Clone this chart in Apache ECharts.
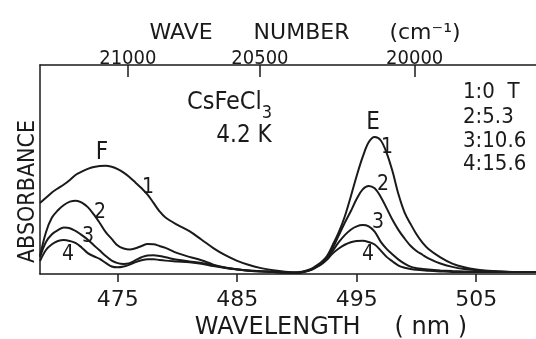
<!DOCTYPE html>
<html>
<head>
<meta charset="utf-8">
<script src="https://cdn.jsdelivr.net/npm/echarts@6/dist/echarts.min.js"></script>
<style>
html,body{margin:0;padding:0;background:#fff;}
#c{width:536px;height:339px;}
</style>
</head>
<body>
<div id="c"></div>
<script>
// wavelength grid (nm)
var wavelength = [468.5,469.0,469.5,470.0,470.5,471.0,471.5,472.0,472.5,473.0,473.5,474.0,474.5,475.0,475.5,476.0,476.5,477.0,477.5,478.0,478.5,479.0,480.0,481.0,482.0,483.0,484.0,485.0,486.0,487.0,488.0,489.0,490.0,491.0,491.5,492.0,492.5,493.0,493.5,494.0,494.5,495.0,495.5,496.0,496.5,497.0,497.5,498.0,498.5,499.0,499.5,500.0,500.5,501.0,502.0,503.0,504.0,505.0,506.0,507.0,508.0,510.0];
// absorbance (arb. units), curve 1: 0 T
var abs1 = [0.34,0.365,0.39,0.41,0.428,0.45,0.475,0.49,0.503,0.512,0.517,0.518,0.513,0.502,0.485,0.463,0.437,0.41,0.38,0.34,0.3,0.27,0.235,0.205,0.165,0.124,0.09,0.063,0.043,0.028,0.018,0.011,0.008,0.02,0.035,0.055,0.085,0.14,0.2,0.275,0.37,0.47,0.56,0.63,0.655,0.64,0.58,0.49,0.38,0.295,0.24,0.19,0.15,0.12,0.08,0.05,0.032,0.021,0.015,0.012,0.01,0.009];
// curve 2: 5.3 T
var abs2 = [0.086,0.2,0.27,0.305,0.33,0.346,0.351,0.342,0.32,0.285,0.244,0.2,0.168,0.136,0.122,0.117,0.123,0.134,0.143,0.142,0.134,0.125,0.1,0.082,0.066,0.045,0.031,0.023,0.017,0.013,0.01,0.007,0.006,0.018,0.032,0.05,0.08,0.125,0.185,0.245,0.3,0.36,0.405,0.421,0.41,0.37,0.315,0.258,0.21,0.17,0.135,0.11,0.092,0.075,0.05,0.034,0.024,0.019,0.014,0.012,0.01,0.009];
// curve 3: 10.6 T
var abs3 = [0.081,0.153,0.19,0.21,0.222,0.219,0.205,0.186,0.164,0.138,0.112,0.086,0.064,0.052,0.048,0.052,0.066,0.08,0.089,0.09,0.086,0.08,0.068,0.06,0.053,0.041,0.03,0.022,0.016,0.013,0.01,0.007,0.006,0.017,0.03,0.047,0.074,0.112,0.152,0.186,0.212,0.228,0.234,0.228,0.203,0.155,0.12,0.093,0.069,0.05,0.035,0.028,0.024,0.021,0.017,0.014,0.012,0.011,0.01,0.01,0.009,0.009];
// curve 4: 15.6 T
var abs4 = [0.062,0.115,0.142,0.158,0.163,0.158,0.148,0.126,0.1,0.085,0.072,0.053,0.036,0.032,0.036,0.045,0.057,0.066,0.071,0.071,0.067,0.064,0.06,0.056,0.049,0.038,0.029,0.022,0.016,0.012,0.009,0.007,0.006,0.016,0.028,0.044,0.068,0.099,0.122,0.14,0.152,0.158,0.159,0.153,0.141,0.113,0.082,0.06,0.04,0.03,0.024,0.02,0.018,0.015,0.012,0.01,0.01,0.009,0.009,0.009,0.009,0.009];

var bottomTicks = [475, 485, 495, 505];
var topTickNm = [475.85, 486.9, 499.85];
var topTickLabels = ['21000', '20500', '20000'];
var legendLines = ['1:0  T', '2:5.3', '3:10.6', '4:15.6'];

var CFONT = "'DejaVu Sans Condensed','Liberation Sans',sans-serif";
var RFONT = "'DejaVu Sans',sans-serif";
var INK = '#1a1a1a';

function pairs(ys){ return wavelength.map(function(x,i){ return [x, ys[i]]; }); }
function lineSeries(name, ys){
  return {type:'line', name:name, data:pairs(ys), showSymbol:false, smooth:0.35,
    lineStyle:{color:INK, width:2}, xAxisIndex:0, yAxisIndex:0, silent:true, animation:false};
}

var chart = echarts.init(document.getElementById('c'), null, {renderer:'canvas'});
var xmin = 468.5, xmax = 510;
var txt = function(s, x, y, size, align, fam){
  return {type:'text', x:x, y:y, style:{text:s, fill:INK, font: size+'px '+(fam||CFONT), textAlign:align||'center', textVerticalAlign:'middle'}};
};
chart.setOption({
  animation:false,
  backgroundColor:'#fff',
  grid:{left:40, right:0, top:65, bottom:65, containLabel:false, outerBoundsMode:'none'},
  xAxis:[{
    type:'value', position:'bottom', min:xmin, max:xmax,
    name:'{a|WAVELENGTH}{g|}{a|( nm )}', nameLocation:'middle', nameGap:41,
    nameTextStyle:{padding:[0,0,0,86], rich:{a:{fontFamily:RFONT, fontSize:24, color:INK}, g:{width:34}}},
    axisLine:{show:true, lineStyle:{color:INK, width:1.5}},
    axisTick:{show:true, inside:false, length:8, customValues:bottomTicks, lineStyle:{color:INK, width:1.5}},
    axisLabel:{show:true, customValues:bottomTicks, margin:15, fontFamily:RFONT, fontSize:22, color:INK},
    splitLine:{show:false}
  },{
    type:'value', position:'top', min:xmin, max:xmax,
    name:'{a|WAVE}{g1|}{a|NUMBER}{g2|}{a|(cm⁻¹)}', nameLocation:'middle', nameGap:9,
    nameTextStyle:{padding:[0,0,0,34], rich:{a:{fontFamily:RFONT, fontSize:22, color:INK}, g1:{width:41}, g2:{width:40}}},
    axisLine:{show:true, lineStyle:{color:INK, width:1.5}},
    axisTick:{show:true, inside:true, length:12, customValues:topTickNm, lineStyle:{color:INK, width:1.5}},
    axisLabel:{show:true, customValues:topTickNm, margin:-4, fontFamily:CFONT, fontSize:20, color:INK,
      formatter:function(v){ var i = topTickNm.indexOf(v); return i>=0 ? topTickLabels[i] : ''; }},
    splitLine:{show:false}
  }],
  yAxis:[{
    type:'value', min:0, max:1,
    name:'ABSORBANCE', nameLocation:'middle', nameGap:0, nameRotate:90,
    nameTextStyle:{fontFamily:CFONT, fontSize:23, color:INK, padding:[0,44,0,0]},
    axisLine:{show:true, lineStyle:{color:INK, width:1.5}},
    axisTick:{show:false}, axisLabel:{show:false}, splitLine:{show:false}
  }],
  series:[lineSeries('1', abs1), lineSeries('2', abs2), lineSeries('3', abs3), lineSeries('4', abs4)],
  graphic:[
    txt('F', 102, 153, 24), txt('1', 148, 188, 21), txt('2', 100, 213, 21), txt('3', 88, 237, 21), txt('4', 68, 255, 21),
    txt('E', 373, 123, 24), txt('1', 387, 148, 21), txt('2', 383, 185, 21), txt('3', 378, 223, 21), txt('4', 368, 255, 21),
    txt('CsFeCl', 187, 102, 25, 'left'), txt('3', 267, 113, 18), txt('4.2 K', 244, 136, 24),
    txt(legendLines[0], 463, 92, 22, 'left'), txt(legendLines[1], 463, 117, 22, 'left'),
    txt(legendLines[2], 463, 141, 22, 'left'), txt(legendLines[3], 463, 164, 22, 'left')
  ]
});
</script>
</body>
</html>
